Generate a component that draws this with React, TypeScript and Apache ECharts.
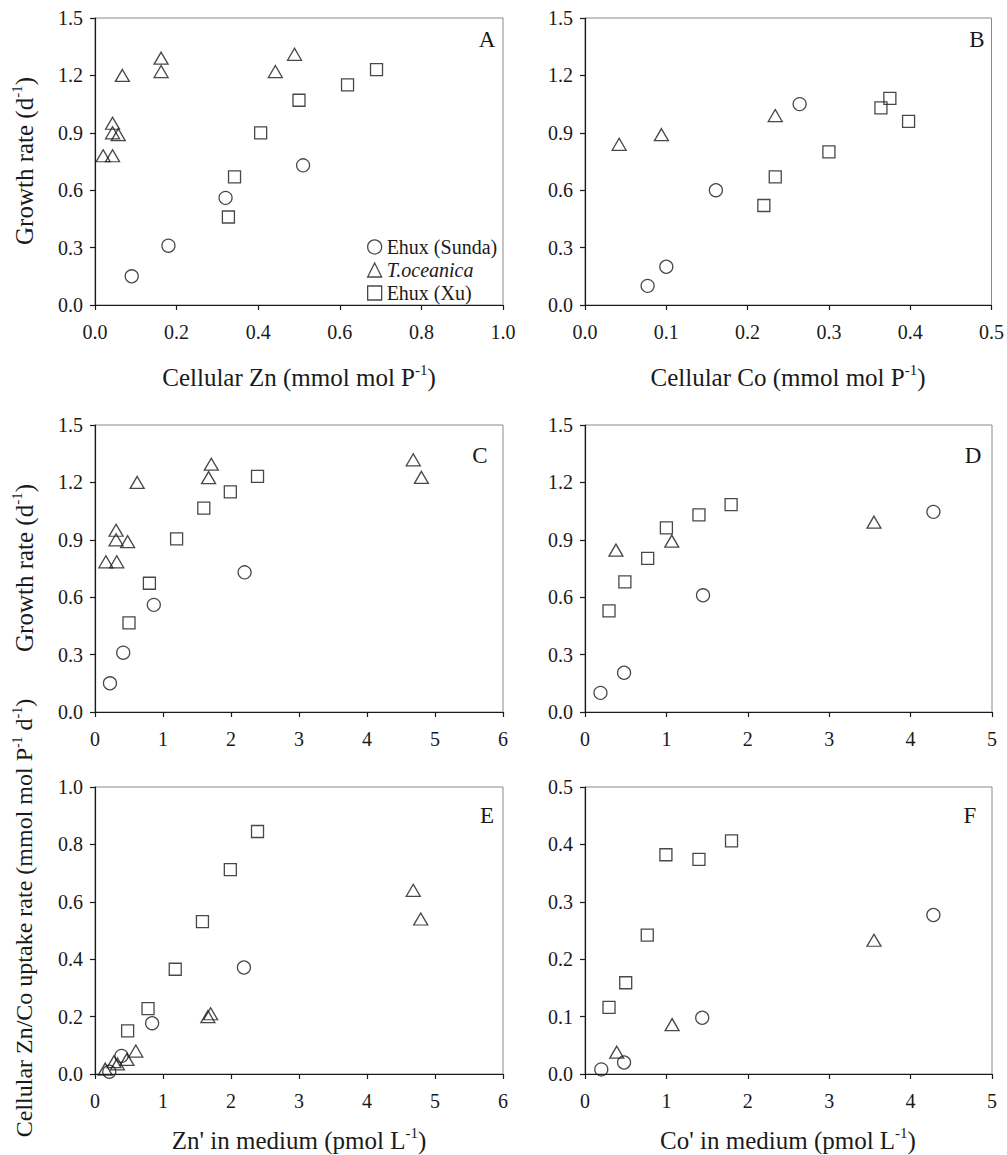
import React, { useEffect, useRef } from "react";
import * as echarts from "echarts";

// ---- Data (x, y) per panel and species ----
const sunA = [[0.09, 0.15], [0.18, 0.31], [0.32, 0.56], [0.51, 0.73]];
const toA = [[0.02, 0.78], [0.043, 0.78], [0.043, 0.95], [0.043, 0.9], [0.057, 0.89], [0.067, 1.2], [0.162, 1.29], [0.162, 1.22], [0.442, 1.22], [0.489, 1.31]];
const xuA = [[0.327, 0.46], [0.342, 0.67], [0.406, 0.9], [0.5, 1.07], [0.619, 1.15], [0.69, 1.23]];

const sunB = [[0.077, 0.1], [0.1, 0.2], [0.161, 0.6], [0.264, 1.05]];
const toB = [[0.042, 0.84], [0.094, 0.89], [0.234, 0.99]];
const xuB = [[0.22, 0.52], [0.234, 0.67], [0.3, 0.8], [0.364, 1.03], [0.375, 1.08], [0.398, 0.96]];

const sunC = [[0.22, 0.15], [0.415, 0.31], [0.865, 0.56], [2.2, 0.73]];
const toC = [[0.16, 0.785], [0.32, 0.785], [0.31, 0.95], [0.31, 0.9], [0.48, 0.89], [0.62, 1.2], [1.71, 1.295], [1.67, 1.225], [4.68, 1.318], [4.8, 1.226]];
const xuC = [[0.5, 0.466], [0.8, 0.673], [1.2, 0.905], [1.6, 1.066], [1.99, 1.151], [2.39, 1.231]];

const sunD = [[0.19, 0.1], [0.48, 0.205], [1.45, 0.61], [4.28, 1.046]];
const toD = [[0.38, 0.846], [1.066, 0.893], [3.55, 0.992]];
const xuD = [[0.295, 0.529], [0.49, 0.68], [0.77, 0.803], [1.0, 0.962], [1.4, 1.03], [1.795, 1.084]];

const sunE = [[0.21, 0.008], [0.39, 0.063], [0.84, 0.177], [2.19, 0.371]];
const toE = [[0.15, 0.017], [0.28, 0.043], [0.33, 0.035], [0.47, 0.051], [0.6, 0.08], [1.66, 0.2], [1.7, 0.21], [4.68, 0.64], [4.79, 0.54]];
const xuE = [[0.48, 0.15], [0.78, 0.228], [1.18, 0.365], [1.58, 0.531], [1.99, 0.712], [2.39, 0.845]];

const sunF = [[0.2, 0.008], [0.48, 0.02], [1.44, 0.098], [4.28, 0.277]];
const toF = [[0.39, 0.038], [1.07, 0.086], [3.55, 0.233]];
const xuF = [[0.295, 0.116], [0.5, 0.159], [0.765, 0.242], [0.994, 0.382], [1.4, 0.374], [1.8, 0.406]];

const seriesNames = ["Ehux (Sunda)", "T.oceanica", "Ehux (Xu)"];
const panelLetters = ["A", "B", "C", "D", "E", "F"];

// axis ranges per panel: [min, max, interval, decimals]
const xRanges = [[0, 1, 0.2, 1], [0, 0.5, 0.1, 1], [0, 6, 1, 0], [0, 5, 1, 0], [0, 6, 1, 0], [0, 5, 1, 0]];
const yRanges = [[0, 1.5, 0.3, 1], [0, 1.5, 0.3, 1], [0, 1.5, 0.3, 1], [0, 1.5, 0.3, 1], [0, 1.0, 0.2, 1], [0, 0.5, 0.1, 1]];

const panelData = [
  [sunA, toA, xuA],
  [sunB, toB, xuB],
  [sunC, toC, xuC],
  [sunD, toD, xuD],
  [sunE, toE, xuE],
  [sunF, toF, xuF],
];

const FONT = "Liberation Serif";
const INK = "#1a1a1a";

export default function App() {
  const ref = useRef<HTMLDivElement>(null);

  useEffect(() => {
    if (!ref.current) return;
    const chart = echarts.init(ref.current, undefined, { renderer: "svg" });

    const cols = [95, 585];
    const widths = [408, 407];
    const rows = [18, 425, 787];
    const H = 287;
    const letterPos = [[487, 39], [977, 39], [480, 455], [973, 455], [487, 815], [970, 815]];

    const grids: any[] = [];
    const xAxes: any[] = [];
    const yAxes: any[] = [];
    const series: any[] = [];
    const graphics: any[] = [];

    const symbols = ["circle", "triangle", "rect"];
    const sizes: any[] = [13, [14, 12], 12];

    for (let p = 0; p < 6; p++) {
      const c = p % 2;
      const r = Math.floor(p / 2);
      grids.push({
        left: cols[c],
        top: rows[r],
        width: widths[c],
        height: H,
        show: true,
        borderColor: "#8a8a8a",
        borderWidth: 1,
        backgroundColor: "transparent",
      });
      const xr = xRanges[p];
      const yr = yRanges[p];
      xAxes.push({
        type: "value",
        gridIndex: p,
        min: xr[0],
        max: xr[1],
        interval: xr[2],
        axisLine: { show: true, onZero: false, lineStyle: { color: INK, width: 1.2 } },
        axisTick: { show: true, inside: false, length: 5, lineStyle: { color: INK, width: 1.2 } },
        splitLine: { show: false },
        axisLabel: {
          margin: 17,
          color: INK,
          fontFamily: FONT,
          fontSize: 20,
          formatter: (v: number) => v.toFixed(xr[3]),
        },
      });
      yAxes.push({
        type: "value",
        gridIndex: p,
        min: yr[0],
        max: yr[1],
        interval: yr[2],
        axisLine: { show: true, onZero: false, lineStyle: { color: INK, width: 1.2 } },
        axisTick: { show: true, inside: false, length: 5, lineStyle: { color: INK, width: 1.2 } },
        splitLine: { show: false },
        axisLabel: {
          margin: 12,
          color: INK,
          fontFamily: FONT,
          fontSize: 20,
          formatter: (v: number) => v.toFixed(yr[3]),
        },
      });
      for (let s = 0; s < 3; s++) {
        series.push({
          type: "scatter",
          name: seriesNames[s],
          xAxisIndex: p,
          yAxisIndex: p,
          symbol: symbols[s],
          symbolSize: sizes[s],
          itemStyle: { color: "transparent", borderColor: INK, borderWidth: 1.3 },
          emphasis: { disabled: true },
          data: panelData[p][s],
        });
      }
      graphics.push({
        type: "text",
        x: letterPos[p][0],
        y: letterPos[p][1],
        style: {
          text: panelLetters[p],
          font: `23px '${FONT}'`,
          fill: INK,
          align: "center",
          verticalAlign: "middle",
        },
      });
    }

    const makeRich = (size: number) => ({
      n: { fontFamily: FONT, fontSize: size, lineHeight: size + 4, color: INK },
      s: { fontFamily: FONT, fontSize: Math.round(size * 0.6), lineHeight: Math.round(size * 0.62), verticalAlign: "top", color: INK },
    });

    const addTitle = (x: number, y: number, text: string, rot: number, size = 25) => {
      graphics.push({
        type: "text",
        x,
        y,
        rotation: rot,
        style: {
          text,
          rich: makeRich(size),
          align: "center",
          verticalAlign: "middle",
          fill: INK,
        },
      });
    };

    addTitle(299, 377, "{n|Cellular Zn (mmol mol P}{s|-1}{n|)}", 0);
    addTitle(788, 377, "{n|Cellular Co (mmol mol P}{s|-1}{n|)}", 0);
    addTitle(299, 1140, "{n|Zn' in medium (pmol L}{s|-1}{n|)}", 0);
    addTitle(788, 1140, "{n|Co' in medium (pmol L}{s|-1}{n|)}", 0);
    addTitle(24, 161, "{n|Growth rate (d}{s|-1}{n|)}", Math.PI / 2);
    addTitle(24, 568, "{n|Growth rate (d}{s|-1}{n|)}", Math.PI / 2);
    addTitle(24, 918, "{n|Cellular Zn/Co uptake rate (mmol mol P}{s|-1}{n| d}{s|-1}{n|)}", Math.PI / 2, 24);

    chart.setOption({
      animation: false,
      backgroundColor: "#ffffff",
      grid: grids,
      xAxis: xAxes,
      yAxis: yAxes,
      series,
      legend: {
        show: true,
        data: seriesNames,
        orient: "vertical",
        left: 362,
        top: 232,
        itemWidth: 14,
        itemHeight: 14,
        itemGap: 3,
        selectedMode: false,
        itemStyle: { color: "transparent", borderColor: INK, borderWidth: 1.3 },
        textStyle: {
          fontFamily: FONT,
          fontSize: 20,
          color: INK,
          rich: {
            r: { fontFamily: FONT, fontSize: 20, color: INK },
            i: { fontFamily: FONT, fontSize: 20, fontStyle: "italic", color: INK },
          },
        },
        formatter: (name: string) => (name === "T.oceanica" ? `{i|${name}}` : `{r|${name}}`),
      },
      graphic: graphics,
    });

    return () => chart.dispose();
  }, []);

  return (
    <div
      ref={ref}
      style={{ position: "absolute", left: 0, top: 0, width: 1007, height: 1155, background: "#fff" }}
    />
  );
}
